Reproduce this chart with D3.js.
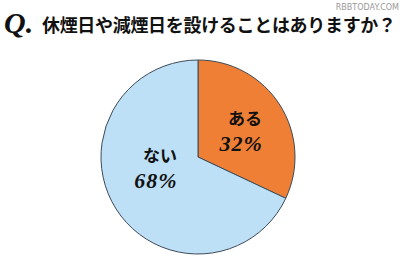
<!DOCTYPE html>
<html>
<head>
<meta charset="utf-8">
<script src="https://cdn.jsdelivr.net/npm/d3@7"></script>
<style>
  body { margin: 0; background: #fff; }
  svg { display: block; }
</style>
</head>
<body>
<svg width="400" height="267"></svg>
<script>
// Set up dimensions
let svg = d3.select("svg");
let width = +svg.attr("width");
let height = +svg.attr("height");

// Chart data
const question = "休煙日や減煙日を設けることはありますか？";
const answers = ["ある", "ない"];
const shares = [32, 68];
const colors = ["#ee7f35", "#bde0f7"];

// Title
svg.append("text")
    .attr("x", 4)
    .attr("y", 33)
    .attr("font-family", "'Liberation Serif', serif")
    .attr("font-style", "italic")
    .attr("font-weight", "bold")
    .attr("font-size", 30)
    .attr("fill", "#111")
    .text("Q.");

svg.append("text")
    .attr("x", 42)
    .attr("y", 32)
    .attr("font-family", "'Noto Sans CJK JP', sans-serif")
    .attr("font-weight", "bold")
    .attr("font-size", 18)
    .attr("fill", "#111")
    .attr("textLength", 354)
    .text(question);

// watermark
svg.append("text")
    .attr("x", 399)
    .attr("y", 10)
    .attr("text-anchor", "end")
    .attr("font-family", "'DejaVu Sans', sans-serif")
    .attr("font-size", 8)
    .attr("fill", "#9a9a9a")
    .text("RBBTODAY.COM");

/*************************************************************************/
// Pie
let radius = 97;
let g = svg.append("g")
    .attr("transform", "translate(198,157)");

let pie = d3.pie().sort(null).value(d => d);
let arc = d3.arc().innerRadius(0).outerRadius(radius);
let arcs = pie(shares);

g.selectAll("path")
  .data(arcs)
  .enter().append("path")
    .attr("d", arc)
    .attr("fill", (d, i) => colors[i])
    .attr("stroke", "#3d4b58")
    .attr("stroke-width", 1);

// Labels
let labelArc = d3.arc().innerRadius(0).outerRadius(radius * 1.15);
let offsets = [[0, -2], [9, -25]];

let labels = g.selectAll(".label")
  .data(arcs)
  .enter().append("g")
    .attr("class", "label")
    .attr("transform", (d, i) => {
      let c = labelArc.centroid(d);
      return "translate(" + (c[0] + offsets[i][0]) + "," + (c[1] + offsets[i][1]) + ")";
    });

labels.append("text")
    .attr("text-anchor", "middle")
    .attr("y", 0)
    .attr("font-family", "'Noto Sans CJK JP', sans-serif")
    .attr("font-weight", "bold")
    .attr("font-size", 17)
    .attr("fill", "#111")
    .text((d, i) => answers[i]);

labels.append("text")
    .attr("text-anchor", "middle")
    .attr("x", (d, i) => i ? -4 : -4)
    .attr("y", 26)
    .attr("font-family", "'Liberation Serif', serif")
    .attr("font-style", "italic")
    .attr("font-weight", "bold")
    .attr("font-size", 22)
    .attr("letter-spacing", 1)
    .attr("fill", "#111")
    .text(d => d.data + "%");
</script>
</body>
</html>
